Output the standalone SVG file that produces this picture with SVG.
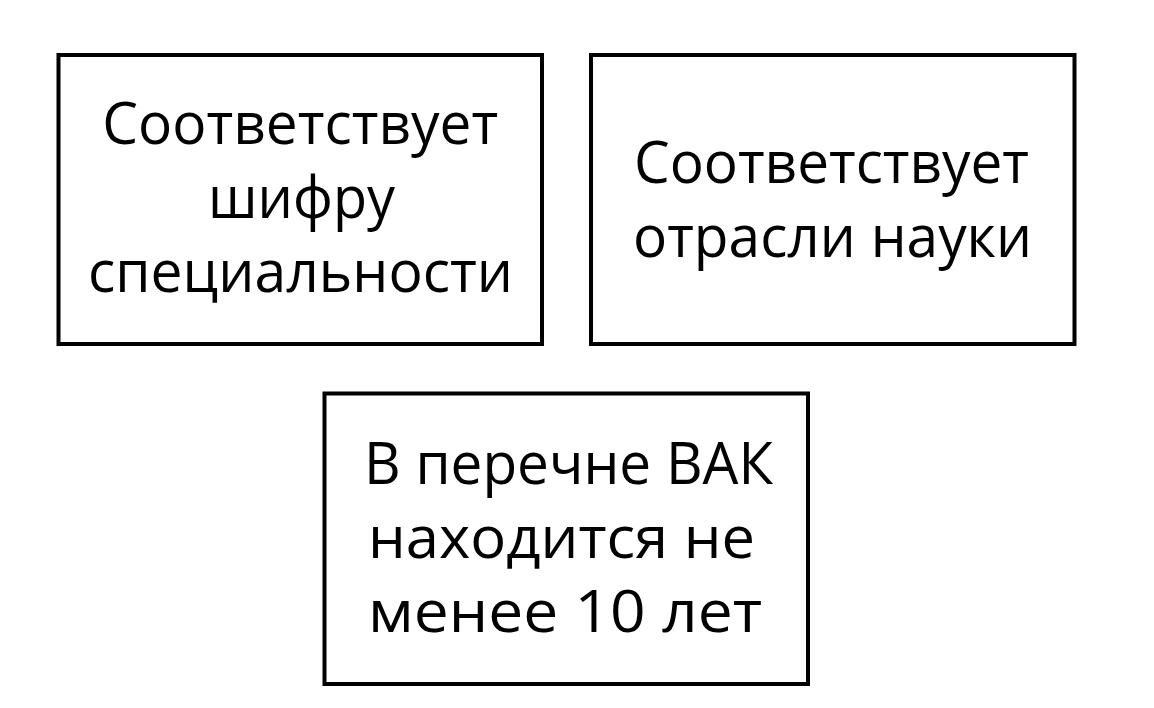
<svg xmlns="http://www.w3.org/2000/svg" width="1154" height="708" viewBox="0 0 1154 708">
<style>
.box{fill:#ffffff;stroke:#000000;stroke-width:4}
.t{font-family:"Open Sans","Noto Sans","DejaVu Sans",sans-serif;font-size:58px;fill:#000000;text-anchor:middle}
</style>
<rect width="1154" height="708" fill="#ffffff"/>
<g id="node-specialty">
<rect class="box" x="58.5" y="55" width="483.5" height="289"/>
<text class="t" x="300.25" y="144" textLength="396" lengthAdjust="spacingAndGlyphs">Соответствует</text>
<text class="t" x="301.5" y="218" textLength="187" lengthAdjust="spacingAndGlyphs">шифру</text>
<text class="t" x="300.5" y="292" textLength="425" lengthAdjust="spacingAndGlyphs">специальности</text>
</g>
<g id="node-branch">
<rect class="box" x="591" y="55" width="483.5" height="289"/>
<text class="t" x="831.5" y="183" textLength="395" lengthAdjust="spacingAndGlyphs">Соответствует</text>
<text class="t" x="832.5" y="257" textLength="399" lengthAdjust="spacingAndGlyphs">отрасли науки</text>
</g>
<g id="node-vak">
<rect class="box" x="324.5" y="393.5" width="483.5" height="290.5"/>
<text class="t" x="568.5" y="483.5" textLength="409" lengthAdjust="spacingAndGlyphs">В перечне ВАК</text>
<text class="t" x="561.5" y="557.5" textLength="387" lengthAdjust="spacingAndGlyphs">находится не</text>
<text class="t" x="565" y="631.5" textLength="394" lengthAdjust="spacingAndGlyphs">менее 10 лет</text>
</g>
<g id="connectors"/>
</svg>
